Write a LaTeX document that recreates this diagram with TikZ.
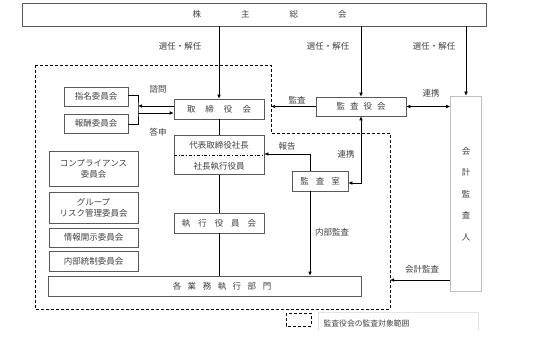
\documentclass[tikz,border=0pt]{standalone}
\usepackage{fontspec}
\setmainfont{Noto Sans CJK JP}
\usepackage{xcolor}
\usetikzlibrary{arrows.meta}

\begin{document}
\begin{tikzpicture}[x=1pt,y=-1pt,
  font=\fontsize{8.5}{11}\selectfont, text=black!75,
  box/.style={draw=black!65,line width=0.6pt,rectangle,inner sep=0pt,align=center},
  arr/.style={line width=0.6pt,-{Latex[length=4pt,width=3.5pt]}},
  arrb/.style={line width=0.6pt,{Latex[length=4pt,width=3.5pt]}-{Latex[length=4pt,width=3.5pt]}},
  area/.style={dashed,dash pattern=on 3pt off 2pt,line width=0.9pt}]
 \useasboundingbox (0,0) rectangle (537,347);
 % boxes
 \node[box,minimum width=464pt,minimum height=23pt] (sh) at (254,14.5) {};
 \node at (269.5,14.5) {株\hspace{40pt}主\hspace{40pt}総\hspace{40pt}会};
 \node[box,minimum width=90pt,minimum height=20pt] (board) at (219,109) {取\hspace{10pt}締\hspace{10pt}役\hspace{10pt}会};
 \node[box,minimum width=90pt,minimum height=39pt] (ceo) at (219,155) {};
 \node (ceoa) at (219,145.5) {代表取締役社長};
 \node (ceob) at (219,166) {社長執行役員};
 \draw[line width=0.6pt,dash dot] (ceo.west) -- (ceo.east);
 \node[box,minimum width=90pt,minimum height=20pt] (exec) at (219,223) {執\hspace{8pt}行\hspace{8pt}役\hspace{8pt}員\hspace{8pt}会};
 \node[box,minimum width=313pt,minimum height=20pt] (dept) at (204.5,286) {};
 \node at (222,286) {各\hspace{6.5pt}業\hspace{6.5pt}務\hspace{6.5pt}執\hspace{6.5pt}行\hspace{6.5pt}部\hspace{6.5pt}門};
 \node[box,minimum width=64pt,minimum height=19pt] (nom) at (96,96.5) {指名委員会};
 \node[box,minimum width=64pt,minimum height=19pt] (rem) at (96,123.5) {報酬委員会};
 \node[box,minimum width=89pt,minimum height=35pt] (comp) at (93.5,168.5) {コンプライアンス\\委員会};
 \node[box,minimum width=89pt,minimum height=31pt] (risk) at (93.5,207.5) {グループ\\リスク管理委員会};
 \node[box,minimum width=89pt,minimum height=19pt] (disc) at (93.5,237.5) {情報開示委員会};
 \node[box,minimum width=89pt,minimum height=20pt] (ctrl) at (93.5,261) {内部統制委員会};
 \node[box,minimum width=90pt,minimum height=19pt] (kyk) at (361,106.5) {監\hspace{5pt}査\hspace{5pt}役\hspace{5pt}会};
 \node[box,minimum width=56pt,minimum height=20pt] (office) at (320,181) {監\hspace{7pt}査\hspace{7pt}室};
 \node[box,draw=black!25,minimum width=31pt,minimum height=195pt] (auditor) at (466,193.5) {};
 \foreach \ch [count=\i] in {会,計,監,査,人}
  \node at (466,129.5+21.5*\i) {\ch};
 % audited area
 \coordinate (d1) at (271,65);
 \coordinate (d2) at (390,133);
 \draw[area] (35,65) -- (d1) -- (271,133) -- (d2) -- (390,309) -- (35,309) -- cycle;
 % connectors
 \draw[arr] (sh.south -| board.north) -- (board.north);
 \draw[arr] (sh.south -| kyk.north) -- (kyk.north);
 \draw[arr] (sh.south -| auditor.north) -- (auditor.north);
 \node at (180,46) {選任・解任};
 \node at (328,46) {選任・解任};
 \node at (434,46) {選任・解任};
 \coordinate (br) at (138,109);
 \draw[line width=0.6pt] ([yshift=1.5pt]nom.east) -| (br) |- ([yshift=-0.5pt]rem.east);
 \draw[arr] ([yshift=3pt]board.west) -- ([yshift=3pt]board.west -| br);
 \draw[arr] ([yshift=-4pt]board.west -| br) -- ([yshift=-4pt]board.west);
 \node at (158,89) {諮問};
 \node at (158,132) {答申};
 \draw[line width=0.6pt] (board.south) -- (ceo.north);
 \draw[line width=0.6pt] (ceo.south) -- (exec.north);
 \draw[line width=0.6pt] (exec.south) -- (exec.south |- dept.north);
 \draw[arr] (kyk.west) -- (kyk.west -| d1);
 \node at (297,100) {監査};
 \draw[arrb] (kyk.east) -- (kyk.east -| auditor.west);
 \node at (431,93) {連携};
 \draw[arr] ([xshift=-10pt]office.north) |- ([yshift=1pt]ceo.east);
 \node at (287,146) {報告};
 \draw[arrb] (kyk.south) |- ([yshift=-2pt]office.east);
 \node at (346,154) {連携};
 \draw[arr] ([xshift=-10pt]office.south) -- ([xshift=-10pt]office.south |- dept.north);
 \node at (332,232) {内部監査};
 \coordinate (ca) at (auditor.west |- 0,280);
 \draw[arr] (ca) -- (ca -| d2);
 \node at (422,269) {会計監査};
 % legend
 \draw[area] (286,313) rectangle (311,326);
 \draw[black!10,line width=0.5pt] (318,331) |- (478,312) -- (478,331);
 \node[font=\fontsize{7.8}{10}\selectfont] (legend) at (366.5,324) {監査役会の監査対象範囲};
\end{tikzpicture}
\end{document}
